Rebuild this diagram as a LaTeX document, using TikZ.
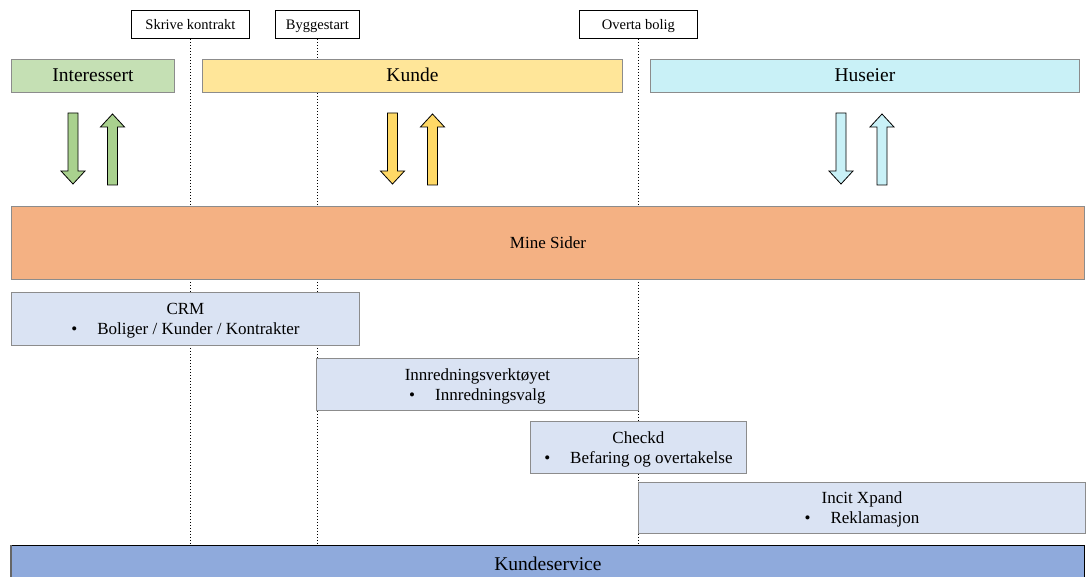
\documentclass[tikz,border=0pt]{standalone}
\usepackage{fontspec}
\setmainfont{Liberation Serif}
\usetikzlibrary{backgrounds}

\definecolor{barGreen}{HTML}{C5E0B4}
\definecolor{arrGreen}{HTML}{A9D18E}
\definecolor{barYellow}{HTML}{FFE699}
\definecolor{arrYellow}{HTML}{FFD966}
\definecolor{barCyan}{HTML}{C9F1F7}
\definecolor{arrCyan}{HTML}{C9F1F7}
\definecolor{portal}{HTML}{F4B183}
\definecolor{sysBlue}{HTML}{DAE3F3}
\definecolor{service}{HTML}{8FAADC}
\definecolor{edgeGray}{HTML}{8C8C8C}

\tikzset{
  milestone/.style={draw=black, line width=0.8pt, fill=white, inner sep=0pt,
    text height=11.5pt, text depth=1.5pt,
    anchor=north west, font=\fontsize{14.5}{17}\selectfont},
  phase/.style={draw=edgeGray, line width=0.9pt, inner sep=0pt,
    text height=14pt, text depth=3pt,
    anchor=north west, font=\fontsize{19.5}{22}\selectfont},
  system/.style={draw=edgeGray, line width=0.9pt, fill=sysBlue, align=center,
    inner sep=0pt, text depth=-2pt, anchor=north west, font=\fontsize{17}{20}\selectfont},
  timeline/.style={dash pattern=on 1.6pt off 1.4pt, line width=0.8pt},
  blockarrow/.style={draw=black, line width=0.8pt},
  pics/downarr/.style={code={
    \draw[blockarrow, fill=#1] (-5,0) -- (5,0) -- (5,58) -- (12,58) -- (0,71)
      -- (-12,58) -- (-5,58) -- cycle;}},
  pics/uparr/.style={code={
    \draw[blockarrow, fill=#1] (-5,71) -- (5,71) -- (5,13) -- (12,13) -- (0,0)
      -- (-12,13) -- (-5,13) -- cycle;}},
}
\newcommand{\bulletline}[1]{\textbullet\hspace{20pt}#1}

\begin{document}
\begin{tikzpicture}[x=1pt, y=-1pt]
\useasboundingbox (0,0) rectangle (1088,577);

% milestones
\node[milestone, minimum width=118, minimum height=28] (skrive) at (131,10) {Skrive kontrakt};
\node[milestone, minimum width=84, minimum height=28] (bygge) at (275,10) {Byggestart};
\node[milestone, minimum width=118, minimum height=28] (overta) at (579,10) {Overta bolig};

% phases
\node[phase, fill=barGreen, minimum width=163, minimum height=33] (interessert) at (11,59) {Interessert};
\node[phase, fill=barYellow, minimum width=420, minimum height=33] (kunde) at (202,59) {Kunde};
\node[phase, fill=barCyan, minimum width=429, minimum height=33] (huseier) at (650,59) {Huseier};

% two-way arrows between each phase and the portal
\pic (gdown) at (73,113) {downarr=arrGreen};
\pic (gup) at (112.5,114) {uparr=arrGreen};
\pic (ydown) at (392.5,113) {downarr=arrYellow};
\pic (yup) at (432.5,114) {uparr=arrYellow};
\pic (cdown) at (841,113) {downarr=arrCyan};
\pic (cup) at (882,114) {uparr=arrCyan};

% customer portal
\node[draw=edgeGray, line width=0.9pt, fill=portal, inner sep=0pt, anchor=north west,
  minimum width=1073, minimum height=73, font=\fontsize{17}{20}\selectfont] (mine) at (11,206) {Mine Sider};

% systems
\node[system, minimum width=348, minimum height=53] (crm) at (11,292)
  {CRM\\\bulletline{Boliger / Kunder / Kontrakter}};
\node[system, minimum width=322, minimum height=52] (innr) at (316,358)
  {Innredningsverktøyet\\\bulletline{Innredningsvalg}};
\node[system, minimum width=216, minimum height=52] (checkd) at (530,421)
  {Checkd\\\bulletline{Befaring og overtakelse}};
\node[system, minimum width=447, minimum height=51] (incit) at (638,482)
  {Incit Xpand\\\bulletline{Reklamasjon}};

% customer service
\node[draw=black, line width=0.9pt, fill=service, inner sep=0pt, anchor=north west,
  minimum width=1073, minimum height=36, font=\fontsize{19.5}{22}\selectfont] (ks) at (11,545) {Kundeservice};
\draw[line width=2pt, black!60] (ks.north west) -- (ks.south west);

% milestone timelines behind the boxes
\begin{scope}[on background layer]
  \draw[timeline] (skrive.south) -- (skrive.south |- ks.north);
  \draw[timeline] (bygge.south) -- (bygge.south |- ks.north);
  \draw[timeline] (overta.south) -- (overta.south |- ks.north);
\end{scope}
\end{tikzpicture}
\end{document}
